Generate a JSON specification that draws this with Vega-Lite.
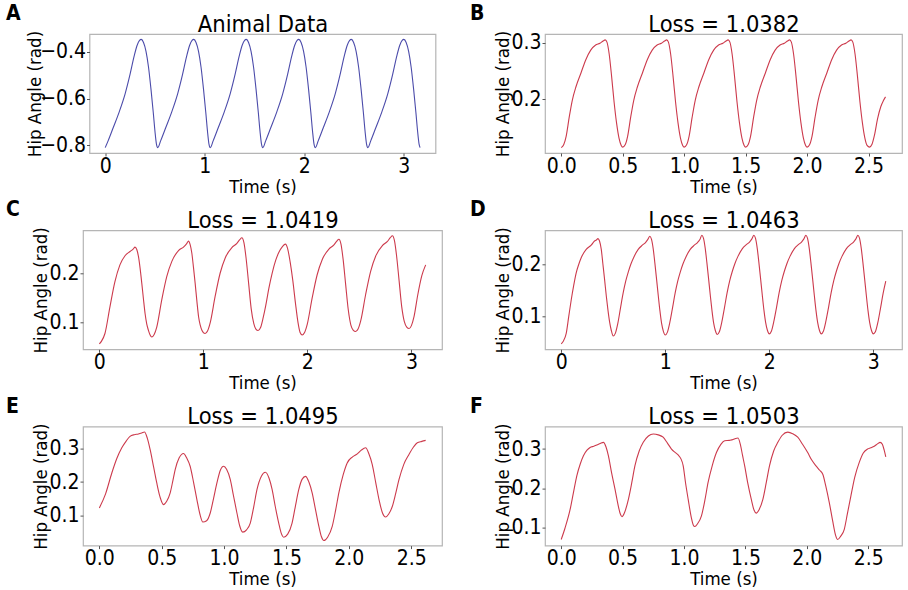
{
"$schema": "https://vega.github.io/schema/vega-lite/v6.json",
"background": "white",
"padding": {"left": 5, "top": 2, "right": 0, "bottom": 0},
"config": {
  "font": "DejaVu Sans Condensed, DejaVu Sans",
  "view": {"stroke": "#b5b5b5", "strokeWidth": 1.2},
  "axis": {"domain": false, "grid": false, "tickColor": "#555", "tickSize": 3, "labelFontSize": 21, "labelColor": "#000", "labelPadding": 1, "labelOverlap": false, "titleFontSize": 18.5, "titleFontWeight": "normal", "titleColor": "#000"},
  "axisX": {"labelPadding": -1, "titlePadding": 1},
  "axisY": {"titlePadding": -2},
  "title": {"fontSize": 21, "fontWeight": "bold", "color": "#000", "anchor": "start", "frame": "group", "baseline": "alphabetic", "offset": -12}
},
"columns": 2,
"spacing": {"row": 77.3, "column": 103},
"bounds": "flush",
"align": "all",
"center": true,
"datasets": {
"A": [{"t":0,"v":-0.81},{"t":0.03,"v":-0.78},{"t":0.08,"v":-0.725},{"t":0.14,"v":-0.658},{"t":0.2,"v":-0.58},{"t":0.25,"v":-0.496},{"t":0.29,"v":-0.42},{"t":0.32,"v":-0.373},{"t":0.345,"v":-0.351},{"t":0.362,"v":-0.347},{"t":0.385,"v":-0.36},{"t":0.41,"v":-0.398},{"t":0.435,"v":-0.465},{"t":0.46,"v":-0.56},{"t":0.483,"v":-0.66},{"t":0.5,"v":-0.74},{"t":0.515,"v":-0.795},
{"t":0.528,"v":-0.81},{"t":0.558,"v":-0.78},{"t":0.608,"v":-0.725},{"t":0.668,"v":-0.658},{"t":0.728,"v":-0.58},{"t":0.778,"v":-0.496},{"t":0.818,"v":-0.42},{"t":0.848,"v":-0.373},{"t":0.873,"v":-0.351},{"t":0.89,"v":-0.347},{"t":0.913,"v":-0.36},{"t":0.938,"v":-0.398},{"t":0.963,"v":-0.465},{"t":0.988,"v":-0.56},{"t":1.011,"v":-0.66},{"t":1.028,"v":-0.74},{"t":1.043,"v":-0.795},
{"t":1.056,"v":-0.81},{"t":1.086,"v":-0.78},{"t":1.136,"v":-0.725},{"t":1.196,"v":-0.658},{"t":1.256,"v":-0.58},{"t":1.306,"v":-0.496},{"t":1.346,"v":-0.42},{"t":1.376,"v":-0.373},{"t":1.401,"v":-0.351},{"t":1.418,"v":-0.347},{"t":1.441,"v":-0.36},{"t":1.466,"v":-0.398},{"t":1.491,"v":-0.465},{"t":1.516,"v":-0.56},{"t":1.539,"v":-0.66},{"t":1.556,"v":-0.74},{"t":1.571,"v":-0.795},
{"t":1.584,"v":-0.81},{"t":1.614,"v":-0.78},{"t":1.664,"v":-0.725},{"t":1.724,"v":-0.658},{"t":1.784,"v":-0.58},{"t":1.834,"v":-0.496},{"t":1.874,"v":-0.42},{"t":1.904,"v":-0.373},{"t":1.929,"v":-0.351},{"t":1.946,"v":-0.347},{"t":1.969,"v":-0.36},{"t":1.994,"v":-0.398},{"t":2.019,"v":-0.465},{"t":2.044,"v":-0.56},{"t":2.067,"v":-0.66},{"t":2.084,"v":-0.74},{"t":2.099,"v":-0.795},
{"t":2.112,"v":-0.81},{"t":2.142,"v":-0.78},{"t":2.192,"v":-0.725},{"t":2.252,"v":-0.658},{"t":2.312,"v":-0.58},{"t":2.362,"v":-0.496},{"t":2.402,"v":-0.42},{"t":2.432,"v":-0.373},{"t":2.457,"v":-0.351},{"t":2.474,"v":-0.347},{"t":2.497,"v":-0.36},{"t":2.522,"v":-0.398},{"t":2.547,"v":-0.465},{"t":2.572,"v":-0.56},{"t":2.595,"v":-0.66},{"t":2.612,"v":-0.74},{"t":2.627,"v":-0.795},
{"t":2.64,"v":-0.81},{"t":2.67,"v":-0.78},{"t":2.72,"v":-0.725},{"t":2.78,"v":-0.658},{"t":2.84,"v":-0.58},{"t":2.89,"v":-0.496},{"t":2.93,"v":-0.42},{"t":2.96,"v":-0.373},{"t":2.985,"v":-0.351},{"t":3.002,"v":-0.347},{"t":3.025,"v":-0.36},{"t":3.05,"v":-0.398},{"t":3.075,"v":-0.465},{"t":3.1,"v":-0.56},{"t":3.123,"v":-0.66},{"t":3.14,"v":-0.74},{"t":3.155,"v":-0.795},{"t":3.165,"v":-0.81}],
"B": [{"t":0,"v":0.114},{"t":0.02,"v":0.119},{"t":0.04,"v":0.134},{"t":0.065,"v":0.168},{"t":0.09,"v":0.198},{"t":0.12,"v":0.222},{"t":0.16,"v":0.246},{"t":0.2,"v":0.27},{"t":0.24,"v":0.287},{"t":0.28,"v":0.296},{"t":0.315,"v":0.299},{"t":0.34,"v":0.303},{"t":0.358,"v":0.305},{"t":0.372,"v":0.301},{"t":0.39,"v":0.28},{"t":0.41,"v":0.24},{"t":0.43,"v":0.195},{"t":0.45,"v":0.158},{"t":0.47,"v":0.131},{"t":0.488,"v":0.118},
{"t":0.5,"v":0.115},{"t":0.52,"v":0.119},{"t":0.54,"v":0.134},{"t":0.565,"v":0.168},{"t":0.59,"v":0.198},{"t":0.62,"v":0.222},{"t":0.66,"v":0.246},{"t":0.7,"v":0.27},{"t":0.74,"v":0.287},{"t":0.78,"v":0.296},{"t":0.815,"v":0.299},{"t":0.84,"v":0.303},{"t":0.858,"v":0.305},{"t":0.872,"v":0.301},{"t":0.89,"v":0.28},{"t":0.91,"v":0.24},{"t":0.93,"v":0.195},{"t":0.95,"v":0.158},{"t":0.97,"v":0.131},{"t":0.988,"v":0.118},
{"t":1.0,"v":0.115},{"t":1.02,"v":0.119},{"t":1.04,"v":0.134},{"t":1.065,"v":0.168},{"t":1.09,"v":0.198},{"t":1.12,"v":0.222},{"t":1.16,"v":0.246},{"t":1.2,"v":0.27},{"t":1.24,"v":0.287},{"t":1.28,"v":0.296},{"t":1.315,"v":0.299},{"t":1.34,"v":0.303},{"t":1.358,"v":0.305},{"t":1.372,"v":0.301},{"t":1.39,"v":0.28},{"t":1.41,"v":0.24},{"t":1.43,"v":0.195},{"t":1.45,"v":0.158},{"t":1.47,"v":0.131},{"t":1.488,"v":0.118},
{"t":1.5,"v":0.115},{"t":1.52,"v":0.119},{"t":1.54,"v":0.134},{"t":1.565,"v":0.168},{"t":1.59,"v":0.198},{"t":1.62,"v":0.222},{"t":1.66,"v":0.246},{"t":1.7,"v":0.27},{"t":1.74,"v":0.287},{"t":1.78,"v":0.296},{"t":1.815,"v":0.299},{"t":1.84,"v":0.303},{"t":1.858,"v":0.305},{"t":1.872,"v":0.301},{"t":1.89,"v":0.28},{"t":1.91,"v":0.24},{"t":1.93,"v":0.195},{"t":1.95,"v":0.158},{"t":1.97,"v":0.131},{"t":1.988,"v":0.118},
{"t":2.0,"v":0.115},{"t":2.02,"v":0.119},{"t":2.04,"v":0.134},{"t":2.065,"v":0.168},{"t":2.09,"v":0.198},{"t":2.12,"v":0.222},{"t":2.16,"v":0.246},{"t":2.2,"v":0.27},{"t":2.24,"v":0.287},{"t":2.28,"v":0.296},{"t":2.315,"v":0.299},{"t":2.34,"v":0.303},{"t":2.358,"v":0.305},{"t":2.372,"v":0.301},{"t":2.39,"v":0.28},{"t":2.41,"v":0.24},{"t":2.43,"v":0.195},{"t":2.45,"v":0.158},{"t":2.47,"v":0.131},{"t":2.488,"v":0.118},
{"t":2.508,"v":0.115},{"t":2.528,"v":0.12},{"t":2.548,"v":0.136},{"t":2.573,"v":0.165},{"t":2.6,"v":0.187},{"t":2.62,"v":0.197},{"t":2.638,"v":0.204}],
"C": [{"t":0,"v":0.057},{"t":0.02,"v":0.062},{"t":0.054,"v":0.078},{"t":0.102,"v":0.132},{"t":0.15,"v":0.183},{"t":0.198,"v":0.217},{"t":0.247,"v":0.2355},{"t":0.295,"v":0.244},{"t":0.325,"v":0.249},{"t":0.343,"v":0.253},{"t":0.36,"v":0.248},{"t":0.376,"v":0.234},{"t":0.392,"v":0.21},{"t":0.408,"v":0.18},{"t":0.424,"v":0.148},{"t":0.44,"v":0.118},{"t":0.456,"v":0.097},{"t":0.472,"v":0.0845},{"t":0.488,"v":0.075},
{"t":0.504,"v":0.071},{"t":0.527,"v":0.076},{"t":0.552,"v":0.091},{"t":0.6,"v":0.146},{"t":0.648,"v":0.193},{"t":0.697,"v":0.224},{"t":0.761,"v":0.246},{"t":0.809,"v":0.253},{"t":0.84,"v":0.26},{"t":0.857,"v":0.265},{"t":0.873,"v":0.258},{"t":0.889,"v":0.241},{"t":0.905,"v":0.212},{"t":0.921,"v":0.18},{"t":0.938,"v":0.143},{"t":0.954,"v":0.112},{"t":0.97,"v":0.095},{"t":0.986,"v":0.0845},{"t":1.0,"v":0.08},
{"t":1.017,"v":0.078},{"t":1.04,"v":0.083},{"t":1.066,"v":0.1},{"t":1.113,"v":0.153},{"t":1.161,"v":0.2},{"t":1.21,"v":0.231},{"t":1.274,"v":0.252},{"t":1.32,"v":0.26},{"t":1.35,"v":0.268},{"t":1.37,"v":0.272},{"t":1.39,"v":0.262},{"t":1.41,"v":0.232},{"t":1.435,"v":0.18},{"t":1.46,"v":0.128},{"t":1.485,"v":0.098},{"t":1.505,"v":0.087},
{"t":1.526,"v":0.084},{"t":1.55,"v":0.09},{"t":1.575,"v":0.11},{"t":1.6,"v":0.135},{"t":1.63,"v":0.17},{"t":1.661,"v":0.2},{"t":1.695,"v":0.226},{"t":1.725,"v":0.242},{"t":1.76,"v":0.254},{"t":1.789,"v":0.259},{"t":1.81,"v":0.25},{"t":1.835,"v":0.222},{"t":1.86,"v":0.185},{"t":1.885,"v":0.14},{"t":1.91,"v":0.1},{"t":1.93,"v":0.08},
{"t":1.95,"v":0.075},{"t":1.973,"v":0.08},{"t":1.999,"v":0.097},{"t":2.046,"v":0.15},{"t":2.094,"v":0.197},{"t":2.143,"v":0.228},{"t":2.207,"v":0.249},{"t":2.253,"v":0.257},{"t":2.283,"v":0.265},{"t":2.303,"v":0.269},{"t":2.323,"v":0.259},{"t":2.343,"v":0.229},{"t":2.368,"v":0.177},{"t":2.393,"v":0.126},{"t":2.418,"v":0.095},{"t":2.44,"v":0.085},
{"t":2.464,"v":0.082},{"t":2.487,"v":0.087},{"t":2.513,"v":0.104},{"t":2.56,"v":0.157},{"t":2.608,"v":0.204},{"t":2.657,"v":0.235},{"t":2.721,"v":0.256},{"t":2.767,"v":0.264},{"t":2.797,"v":0.272},{"t":2.817,"v":0.276},{"t":2.837,"v":0.266},{"t":2.857,"v":0.236},{"t":2.882,"v":0.184},{"t":2.907,"v":0.132},{"t":2.932,"v":0.102},{"t":2.955,"v":0.091},
{"t":2.978,"v":0.088},{"t":3.0,"v":0.094},{"t":3.025,"v":0.112},{"t":3.06,"v":0.155},{"t":3.1,"v":0.195},{"t":3.137,"v":0.217}],
"D": [{"t":0,"v":0.048},{"t":0.02,"v":0.053},{"t":0.048,"v":0.068},{"t":0.072,"v":0.1},{"t":0.096,"v":0.132},{"t":0.12,"v":0.16},{"t":0.144,"v":0.184},{"t":0.168,"v":0.2},{"t":0.192,"v":0.213},{"t":0.24,"v":0.229},{"t":0.288,"v":0.237},{"t":0.32,"v":0.245},{"t":0.338,"v":0.247},{"t":0.353,"v":0.2495},{"t":0.368,"v":0.245},{"t":0.385,"v":0.229},{"t":0.4,"v":0.202},{"t":0.417,"v":0.171},{"t":0.433,"v":0.14},{"t":0.449,"v":0.113},{"t":0.465,"v":0.09},{"t":0.481,"v":0.074},
{"t":0.5,"v":0.063},{"t":0.52,"v":0.068},{"t":0.545,"v":0.088},{"t":0.57,"v":0.117},{"t":0.595,"v":0.145},{"t":0.62,"v":0.168},{"t":0.645,"v":0.186},{"t":0.67,"v":0.201},{"t":0.7,"v":0.215},{"t":0.74,"v":0.229},{"t":0.78,"v":0.237},{"t":0.81,"v":0.242},{"t":0.833,"v":0.248},{"t":0.852,"v":0.254},{"t":0.868,"v":0.248},{"t":0.885,"v":0.229},{"t":0.9,"v":0.203},{"t":0.917,"v":0.171},{"t":0.933,"v":0.14},{"t":0.949,"v":0.111},{"t":0.965,"v":0.087},{"t":0.982,"v":0.072},
{"t":1.0,"v":0.065},{"t":1.02,"v":0.07},{"t":1.045,"v":0.09},{"t":1.07,"v":0.117},{"t":1.095,"v":0.145},{"t":1.12,"v":0.168},{"t":1.145,"v":0.186},{"t":1.17,"v":0.201},{"t":1.2,"v":0.215},{"t":1.24,"v":0.229},{"t":1.28,"v":0.237},{"t":1.31,"v":0.242},{"t":1.333,"v":0.248},{"t":1.352,"v":0.256},{"t":1.368,"v":0.25},{"t":1.385,"v":0.23},{"t":1.4,"v":0.204},{"t":1.417,"v":0.172},{"t":1.433,"v":0.141},{"t":1.449,"v":0.112},{"t":1.465,"v":0.088},{"t":1.482,"v":0.073},
{"t":1.5,"v":0.066},{"t":1.52,"v":0.071},{"t":1.545,"v":0.091},{"t":1.57,"v":0.118},{"t":1.595,"v":0.146},{"t":1.62,"v":0.169},{"t":1.645,"v":0.187},{"t":1.67,"v":0.202},{"t":1.7,"v":0.216},{"t":1.74,"v":0.23},{"t":1.78,"v":0.238},{"t":1.81,"v":0.243},{"t":1.833,"v":0.249},{"t":1.852,"v":0.256},{"t":1.868,"v":0.25},{"t":1.885,"v":0.23},{"t":1.9,"v":0.204},{"t":1.917,"v":0.172},{"t":1.933,"v":0.141},{"t":1.949,"v":0.112},{"t":1.965,"v":0.089},{"t":1.982,"v":0.074},
{"t":2.0,"v":0.067},{"t":2.02,"v":0.072},{"t":2.045,"v":0.092},{"t":2.07,"v":0.118},{"t":2.095,"v":0.146},{"t":2.12,"v":0.169},{"t":2.145,"v":0.187},{"t":2.17,"v":0.202},{"t":2.2,"v":0.216},{"t":2.24,"v":0.23},{"t":2.28,"v":0.238},{"t":2.31,"v":0.243},{"t":2.333,"v":0.249},{"t":2.352,"v":0.256},{"t":2.368,"v":0.25},{"t":2.385,"v":0.23},{"t":2.4,"v":0.204},{"t":2.417,"v":0.172},{"t":2.433,"v":0.141},{"t":2.449,"v":0.112},{"t":2.465,"v":0.089},{"t":2.482,"v":0.074},
{"t":2.5,"v":0.067},{"t":2.52,"v":0.072},{"t":2.545,"v":0.092},{"t":2.57,"v":0.118},{"t":2.595,"v":0.146},{"t":2.62,"v":0.169},{"t":2.645,"v":0.187},{"t":2.67,"v":0.202},{"t":2.7,"v":0.216},{"t":2.74,"v":0.23},{"t":2.78,"v":0.238},{"t":2.81,"v":0.243},{"t":2.833,"v":0.249},{"t":2.852,"v":0.256},{"t":2.868,"v":0.25},{"t":2.885,"v":0.23},{"t":2.9,"v":0.204},{"t":2.917,"v":0.172},{"t":2.933,"v":0.141},{"t":2.949,"v":0.112},{"t":2.965,"v":0.089},{"t":2.982,"v":0.074},
{"t":3.0,"v":0.067},{"t":3.02,"v":0.071},{"t":3.045,"v":0.09},{"t":3.07,"v":0.117},{"t":3.095,"v":0.145},{"t":3.12,"v":0.168}],
"E": [{"t":0,"v":0.123},{"t":0.05,"v":0.165},{"t":0.1,"v":0.227},{"t":0.14,"v":0.27},{"t":0.18,"v":0.302},{"t":0.215,"v":0.322},{"t":0.246,"v":0.336},{"t":0.28,"v":0.341},{"t":0.313,"v":0.343},{"t":0.34,"v":0.346},{"t":0.362,"v":0.349},{"t":0.385,"v":0.33},{"t":0.407,"v":0.297},{"t":0.435,"v":0.245},{"t":0.46,"v":0.198},{"t":0.487,"v":0.155},{"t":0.514,"v":0.133},{"t":0.54,"v":0.143},{"t":0.568,"v":0.168},{"t":0.59,"v":0.205},{"t":0.608,"v":0.237},{"t":0.64,"v":0.272},{"t":0.675,"v":0.285},{"t":0.7,"v":0.272},{"t":0.728,"v":0.247},{"t":0.755,"v":0.2},{"t":0.782,"v":0.148},{"t":0.806,"v":0.105},{"t":0.83,"v":0.081},{"t":0.86,"v":0.085},{"t":0.889,"v":0.108},{"t":0.915,"v":0.15},{"t":0.943,"v":0.198},{"t":0.97,"v":0.235},{"t":0.996,"v":0.247},{"t":1.02,"v":0.238},{"t":1.05,"v":0.207},{"t":1.075,"v":0.16},{"t":1.103,"v":0.108},{"t":1.125,"v":0.07},{"t":1.149,"v":0.051},{"t":1.18,"v":0.058},{"t":1.21,"v":0.078},{"t":1.237,"v":0.125},{"t":1.264,"v":0.178},{"t":1.3,"v":0.218},{"t":1.331,"v":0.229},{"t":1.36,"v":0.212},{"t":1.385,"v":0.178},{"t":1.41,"v":0.128},{"t":1.438,"v":0.078},{"t":1.458,"v":0.048},{"t":1.478,"v":0.036},{"t":1.51,"v":0.045},{"t":1.545,"v":0.078},{"t":1.57,"v":0.125},{"t":1.599,"v":0.178},{"t":1.625,"v":0.208},{"t":1.653,"v":0.217},{"t":1.68,"v":0.2},{"t":1.706,"v":0.168},{"t":1.733,"v":0.118},{"t":1.76,"v":0.068},{"t":1.78,"v":0.038},{"t":1.8,"v":0.026},{"t":1.83,"v":0.036},{"t":1.867,"v":0.068},{"t":1.895,"v":0.118},{"t":1.92,"v":0.168},{"t":1.955,"v":0.222},{"t":1.987,"v":0.257},{"t":2.03,"v":0.275},{"t":2.068,"v":0.284},{"t":2.1,"v":0.295},{"t":2.135,"v":0.302},{"t":2.16,"v":0.285},{"t":2.188,"v":0.252},{"t":2.215,"v":0.2},{"t":2.242,"v":0.148},{"t":2.27,"v":0.108},{"t":2.295,"v":0.096},{"t":2.32,"v":0.105},{"t":2.349,"v":0.128},{"t":2.375,"v":0.165},{"t":2.402,"v":0.207},{"t":2.44,"v":0.252},{"t":2.482,"v":0.282},{"t":2.52,"v":0.305},{"t":2.549,"v":0.317},{"t":2.585,"v":0.321},{"t":2.616,"v":0.324}],
"F": [{"t":0,"v":0.07},{"t":0.03,"v":0.098},{"t":0.073,"v":0.147},{"t":0.1,"v":0.19},{"t":0.127,"v":0.232},{"t":0.155,"v":0.262},{"t":0.181,"v":0.283},{"t":0.21,"v":0.297},{"t":0.235,"v":0.304},{"t":0.265,"v":0.307},{"t":0.29,"v":0.31},{"t":0.318,"v":0.314},{"t":0.344,"v":0.317},{"t":0.365,"v":0.305},{"t":0.384,"v":0.283},{"t":0.41,"v":0.24},{"t":0.438,"v":0.198},{"t":0.465,"v":0.155},{"t":0.48,"v":0.136},{"t":0.495,"v":0.128},{"t":0.515,"v":0.138},{"t":0.547,"v":0.172},{"t":0.575,"v":0.215},{"t":0.6,"v":0.257},{"t":0.635,"v":0.295},{"t":0.668,"v":0.317},{"t":0.71,"v":0.333},{"t":0.75,"v":0.338},{"t":0.79,"v":0.336},{"t":0.83,"v":0.33},{"t":0.865,"v":0.315},{"t":0.898,"v":0.3},{"t":0.925,"v":0.292},{"t":0.952,"v":0.285},{"t":0.975,"v":0.275},{"t":0.993,"v":0.258},{"t":1.012,"v":0.215},{"t":1.034,"v":0.172},{"t":1.06,"v":0.125},{"t":1.075,"v":0.107},{"t":1.088,"v":0.103},{"t":1.11,"v":0.11},{"t":1.142,"v":0.13},{"t":1.17,"v":0.17},{"t":1.196,"v":0.215},{"t":1.23,"v":0.258},{"t":1.264,"v":0.291},{"t":1.3,"v":0.312},{"t":1.331,"v":0.321},{"t":1.37,"v":0.322},{"t":1.4,"v":0.324},{"t":1.42,"v":0.327},{"t":1.44,"v":0.328},{"t":1.46,"v":0.31},{"t":1.477,"v":0.283},{"t":1.494,"v":0.257},{"t":1.52,"v":0.212},{"t":1.548,"v":0.172},{"t":1.57,"v":0.145},{"t":1.588,"v":0.137},{"t":1.61,"v":0.145},{"t":1.642,"v":0.172},{"t":1.67,"v":0.215},{"t":1.696,"v":0.257},{"t":1.73,"v":0.295},{"t":1.764,"v":0.317},{"t":1.8,"v":0.335},{"t":1.845,"v":0.343},{"t":1.885,"v":0.339},{"t":1.926,"v":0.33},{"t":1.965,"v":0.312},{"t":2.007,"v":0.291},{"t":2.04,"v":0.272},{"t":2.075,"v":0.257},{"t":2.105,"v":0.246},{"t":2.13,"v":0.236},{"t":2.155,"v":0.205},{"t":2.183,"v":0.164},{"t":2.21,"v":0.118},{"t":2.235,"v":0.08},{"t":2.251,"v":0.07},{"t":2.275,"v":0.078},{"t":2.305,"v":0.096},{"t":2.33,"v":0.135},{"t":2.359,"v":0.181},{"t":2.39,"v":0.228},{"t":2.427,"v":0.266},{"t":2.46,"v":0.29},{"t":2.495,"v":0.3},{"t":2.52,"v":0.303},{"t":2.549,"v":0.307},{"t":2.575,"v":0.313},{"t":2.597,"v":0.317},{"t":2.615,"v":0.312},{"t":2.63,"v":0.297},{"t":2.643,"v":0.28}]
},
"concat": [
{"width": 346, "height": 119, "data": {"name": "A"},
 "title": {"text": "A", "dx": -83.5},
 "layer": [
  {"mark": {"type": "line", "color": "#4b4baa", "strokeWidth": 1.1, "interpolate": "monotone"},
   "encoding": {
    "x": {"field": "t", "type": "quantitative", "scale": {"domain": [-0.158, 3.32], "nice": false, "zero": false}, "axis": {"orient": "bottom", "title": "Time (s)", "values": [0,1,2,3], "format": "d"}},
    "y": {"field": "v", "type": "quantitative", "scale": {"domain": [-0.833, -0.324], "nice": false, "zero": false}, "axis": {"title": "Hip Angle (rad)", "values": [-0.8,-0.6,-0.4], "format": ".1f", "titlePadding": -5}}}},
  {"mark": {"type": "line", "opacity": 0},
   "encoding": {
    "x": {"field": "t", "type": "quantitative", "scale": {"domain": [-0.158, 3.32], "nice": false, "zero": false}, "axis": {"orient": "top", "title": "Animal Data", "labels": false, "ticks": false, "titleFontSize": 23.5, "titlePadding": 3, "titleBaseline": "alphabetic"}},
    "y": {"field": "v", "type": "quantitative", "scale": {"domain": [-0.833, -0.324], "nice": false, "zero": false}}}}
 ]},
{"width": 357, "height": 119, "data": {"name": "B"},
 "title": {"text": "B", "dx": -75},
 "layer": [
  {"mark": {"type": "line", "color": "#cc3a4c", "strokeWidth": 1.1, "interpolate": "monotone"},
   "encoding": {
    "x": {"field": "t", "type": "quantitative", "scale": {"domain": [-0.132, 2.772], "nice": false, "zero": false}, "axis": {"orient": "bottom", "title": "Time (s)", "values": [0,0.5,1,1.5,2,2.5], "format": ".1f"}},
    "y": {"field": "v", "type": "quantitative", "scale": {"domain": [0.1045, 0.3155], "nice": false, "zero": false}, "axis": {"title": "Hip Angle (rad)", "values": [0.2,0.3], "format": ".1f"}}}},
  {"mark": {"type": "line", "opacity": 0},
   "encoding": {
    "x": {"field": "t", "type": "quantitative", "scale": {"domain": [-0.132, 2.772], "nice": false, "zero": false}, "axis": {"orient": "top", "title": "Loss = 1.0382", "labels": false, "ticks": false, "titleFontSize": 23.5, "titlePadding": 3, "titleBaseline": "alphabetic"}},
    "y": {"field": "v", "type": "quantitative", "scale": {"domain": [0.1045, 0.3155], "nice": false, "zero": false}}}}
 ]},
{"width": 359, "height": 119, "data": {"name": "C"},
 "title": {"text": "C", "dx": -77},
 "layer": [
  {"mark": {"type": "line", "color": "#cc3a4c", "strokeWidth": 1.1, "interpolate": "monotone"},
   "encoding": {
    "x": {"field": "t", "type": "quantitative", "scale": {"domain": [-0.157, 3.294], "nice": false, "zero": false}, "axis": {"orient": "bottom", "title": "Time (s)", "values": [0,1,2,3], "format": "d"}},
    "y": {"field": "v", "type": "quantitative", "scale": {"domain": [0.046, 0.287], "nice": false, "zero": false}, "axis": {"title": "Hip Angle (rad)", "values": [0.1,0.2], "format": ".1f"}}}},
  {"mark": {"type": "line", "opacity": 0},
   "encoding": {
    "x": {"field": "t", "type": "quantitative", "scale": {"domain": [-0.157, 3.294], "nice": false, "zero": false}, "axis": {"orient": "top", "title": "Loss = 1.0419", "labels": false, "ticks": false, "titleFontSize": 23.5, "titlePadding": 3, "titleBaseline": "alphabetic"}},
    "y": {"field": "v", "type": "quantitative", "scale": {"domain": [0.046, 0.287], "nice": false, "zero": false}}}}
 ]},
{"width": 357, "height": 119, "data": {"name": "D"},
 "title": {"text": "D", "dx": -75},
 "layer": [
  {"mark": {"type": "line", "color": "#cc3a4c", "strokeWidth": 1.1, "interpolate": "monotone"},
   "encoding": {
    "x": {"field": "t", "type": "quantitative", "scale": {"domain": [-0.156, 3.276], "nice": false, "zero": false}, "axis": {"orient": "bottom", "title": "Time (s)", "values": [0,1,2,3], "format": "d"}},
    "y": {"field": "v", "type": "quantitative", "scale": {"domain": [0.0375, 0.2655], "nice": false, "zero": false}, "axis": {"title": "Hip Angle (rad)", "values": [0.1,0.2], "format": ".1f"}}}},
  {"mark": {"type": "line", "opacity": 0},
   "encoding": {
    "x": {"field": "t", "type": "quantitative", "scale": {"domain": [-0.156, 3.276], "nice": false, "zero": false}, "axis": {"orient": "top", "title": "Loss = 1.0463", "labels": false, "ticks": false, "titleFontSize": 23.5, "titlePadding": 3, "titleBaseline": "alphabetic"}},
    "y": {"field": "v", "type": "quantitative", "scale": {"domain": [0.0375, 0.2655], "nice": false, "zero": false}}}}
 ]},
{"width": 359, "height": 119, "data": {"name": "E"},
 "title": {"text": "E", "dx": -77},
 "layer": [
  {"mark": {"type": "line", "color": "#cc3a4c", "strokeWidth": 1.1, "interpolate": "monotone"},
   "encoding": {
    "x": {"field": "t", "type": "quantitative", "scale": {"domain": [-0.131, 2.747], "nice": false, "zero": false}, "axis": {"orient": "bottom", "title": "Time (s)", "values": [0,0.5,1,1.5,2,2.5], "format": ".1f"}},
    "y": {"field": "v", "type": "quantitative", "scale": {"domain": [0.011, 0.365], "nice": false, "zero": false}, "axis": {"title": "Hip Angle (rad)", "values": [0.1,0.2,0.3], "format": ".1f"}}}},
  {"mark": {"type": "line", "opacity": 0},
   "encoding": {
    "x": {"field": "t", "type": "quantitative", "scale": {"domain": [-0.131, 2.747], "nice": false, "zero": false}, "axis": {"orient": "top", "title": "Loss = 1.0495", "labels": false, "ticks": false, "titleFontSize": 23.5, "titlePadding": 3, "titleBaseline": "alphabetic"}},
    "y": {"field": "v", "type": "quantitative", "scale": {"domain": [0.011, 0.365], "nice": false, "zero": false}}}}
 ]},
{"width": 357, "height": 119, "data": {"name": "F"},
 "title": {"text": "F", "dx": -75},
 "layer": [
  {"mark": {"type": "line", "color": "#cc3a4c", "strokeWidth": 1.1, "interpolate": "monotone"},
   "encoding": {
    "x": {"field": "t", "type": "quantitative", "scale": {"domain": [-0.132, 2.775], "nice": false, "zero": false}, "axis": {"orient": "bottom", "title": "Time (s)", "values": [0,0.5,1,1.5,2,2.5], "format": ".1f"}},
    "y": {"field": "v", "type": "quantitative", "scale": {"domain": [0.0545, 0.357], "nice": false, "zero": false}, "axis": {"title": "Hip Angle (rad)", "values": [0.1,0.2,0.3], "format": ".1f"}}}},
  {"mark": {"type": "line", "opacity": 0},
   "encoding": {
    "x": {"field": "t", "type": "quantitative", "scale": {"domain": [-0.132, 2.775], "nice": false, "zero": false}, "axis": {"orient": "top", "title": "Loss = 1.0503", "labels": false, "ticks": false, "titleFontSize": 23.5, "titlePadding": 3, "titleBaseline": "alphabetic"}},
    "y": {"field": "v", "type": "quantitative", "scale": {"domain": [0.0545, 0.357], "nice": false, "zero": false}}}}
 ]}
]
}
